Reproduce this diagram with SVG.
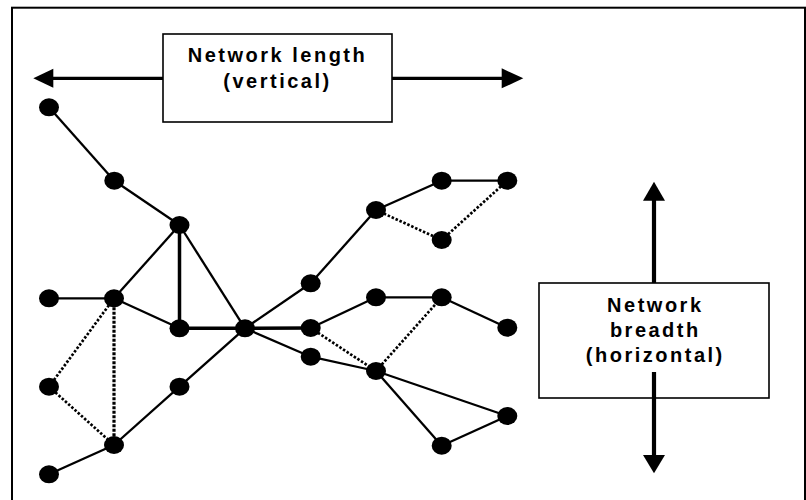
<svg xmlns="http://www.w3.org/2000/svg" width="806" height="500" viewBox="0 0 806 500">
<style>
.e{stroke:#000;stroke-width:2.3;fill:none}
.t{stroke:#000;stroke-width:3.5;fill:none}
.d{stroke:#000;stroke-width:2.7;fill:none;stroke-dasharray:2.5 1.8}
.dt{stroke:#000;stroke-width:3.2;fill:none;stroke-dasharray:3 1.5}
.n{fill:#000}
.box{fill:#fff;stroke:#000;stroke-width:1.6}
.lbl{font-family:"Liberation Sans",Arial,sans-serif;font-weight:bold;font-size:20px;letter-spacing:2.5px;text-anchor:middle;fill:#000}
.ar{stroke:#000;fill:none}
</style>
<rect x="12" y="7.7" width="793" height="510" fill="none" stroke="#000" stroke-width="2"/>
<g id="connectors">
<line class="e" x1="49" y1="107.3" x2="114.3" y2="180.7"/>
<line class="e" x1="114.3" y1="180.7" x2="179.5" y2="225"/>
<line class="e" x1="179.5" y1="225" x2="114" y2="298.3"/>
<line class="t" x1="179.5" y1="225" x2="179.5" y2="328.3"/>
<line class="e" x1="179.5" y1="225" x2="245" y2="328.3"/>
<line class="e" x1="49" y1="298.3" x2="114" y2="298.3"/>
<line class="e" x1="114" y1="298.3" x2="179.5" y2="328.3"/>
<line class="t" x1="179.5" y1="328.3" x2="245" y2="328.3"/>
<line class="t" x1="245" y1="328.3" x2="310.7" y2="328"/>
<line class="e" x1="245" y1="328.3" x2="310.7" y2="283.3"/>
<line class="e" x1="245" y1="328.3" x2="310.7" y2="356.7"/>
<line class="e" x1="245" y1="328.3" x2="179.5" y2="386.7"/>
<line class="e" x1="179.5" y1="386.7" x2="114" y2="445"/>
<line class="e" x1="114" y1="445" x2="49" y2="474.3"/>
<line class="e" x1="310.7" y1="283.3" x2="376" y2="210"/>
<line class="e" x1="376" y1="210" x2="441.7" y2="180.7"/>
<line class="e" x1="441.7" y1="180.7" x2="507.3" y2="180.7"/>
<line class="e" x1="310.7" y1="328" x2="376" y2="297.3"/>
<line class="e" x1="376" y1="297.3" x2="441.7" y2="297.3"/>
<line class="e" x1="441.7" y1="297.3" x2="507.3" y2="327.7"/>
<line class="e" x1="310.7" y1="356.7" x2="376" y2="371"/>
<line class="e" x1="376" y1="371" x2="507.3" y2="416"/>
<line class="e" x1="376" y1="371" x2="441.7" y2="445.7"/>
<line class="e" x1="441.7" y1="445.7" x2="507.3" y2="416"/>
<line class="d" x1="376" y1="210" x2="441.7" y2="240"/>
<line class="d" x1="441.7" y1="240" x2="507.3" y2="180.7"/>
<line class="d" x1="114" y1="298.3" x2="49" y2="386.7"/>
<line class="d" x1="49" y1="386.7" x2="114" y2="445"/>
<line class="dt" x1="114" y1="298.3" x2="114" y2="445"/>
<line class="d" x1="310.7" y1="328" x2="376" y2="371"/>
<line class="d" x1="376" y1="371" x2="441.7" y2="297.3"/>
</g>
<g id="nodes">
<ellipse id="nA" class="n" cx="49" cy="107.3" rx="10" ry="9"/>
<ellipse id="nB" class="n" cx="114.3" cy="180.7" rx="10" ry="9"/>
<ellipse id="nC" class="n" cx="179.5" cy="225" rx="10" ry="9"/>
<ellipse id="nD" class="n" cx="49" cy="298.3" rx="10" ry="9"/>
<ellipse id="nE" class="n" cx="114" cy="298.3" rx="10" ry="9"/>
<ellipse id="nF" class="n" cx="179.5" cy="328.3" rx="10" ry="9"/>
<ellipse id="nG" class="n" cx="245" cy="328.3" rx="10" ry="9"/>
<ellipse id="nH" class="n" cx="49" cy="386.7" rx="10" ry="9"/>
<ellipse id="nI" class="n" cx="179.5" cy="386.7" rx="10" ry="9"/>
<ellipse id="nJ" class="n" cx="114" cy="445" rx="10" ry="9"/>
<ellipse id="nK" class="n" cx="49" cy="474.3" rx="10" ry="9"/>
<ellipse id="nL" class="n" cx="310.7" cy="283.3" rx="10" ry="9"/>
<ellipse id="nM" class="n" cx="310.7" cy="328" rx="10" ry="9"/>
<ellipse id="nN" class="n" cx="310.7" cy="356.7" rx="10" ry="9"/>
<ellipse id="nO" class="n" cx="376" cy="210" rx="10" ry="9"/>
<ellipse id="nP" class="n" cx="441.7" cy="180.7" rx="10" ry="9"/>
<ellipse id="nQ" class="n" cx="507.3" cy="180.7" rx="10" ry="9"/>
<ellipse id="nR" class="n" cx="441.7" cy="240" rx="10" ry="9"/>
<ellipse id="nS" class="n" cx="376" cy="297.3" rx="10" ry="9"/>
<ellipse id="nT" class="n" cx="441.7" cy="297.3" rx="10" ry="9"/>
<ellipse id="nU" class="n" cx="507.3" cy="327.7" rx="10" ry="9"/>
<ellipse id="nV" class="n" cx="376" cy="371" rx="10" ry="9"/>
<ellipse id="nW" class="n" cx="507.3" cy="416" rx="10" ry="9"/>
<ellipse id="nX" class="n" cx="441.7" cy="445.7" rx="10" ry="9"/>
</g>
<g id="length-indicator">
<line class="ar" stroke-width="3.3" x1="52" y1="78.3" x2="163" y2="78.3"/>
<polygon points="33.3,78.3 53.3,68.8 53.3,87.8"/>
<line class="ar" stroke-width="3.3" x1="392" y1="78.3" x2="503" y2="78.3"/>
<polygon points="523.3,78.3 501.7,68.3 501.7,88.3"/>
<rect class="box" x="163" y="34" width="229" height="88"/>
<text class="lbl" x="277.5" y="62">Network length</text>
<text class="lbl" x="277.5" y="87.5">(vertical)</text>
</g>
<g id="breadth-indicator">
<line class="ar" stroke-width="4.2" x1="654" y1="283" x2="654" y2="199"/>
<polygon points="654,181.7 643,200.7 665,200.7"/>
<rect class="box" x="539" y="283" width="230" height="115"/>
<line class="ar" stroke-width="4.2" x1="654" y1="372" x2="654" y2="457"/>
<polygon points="654,473.3 643,455 665,455"/>
<text class="lbl" x="655.3" y="311.7">Network</text>
<text class="lbl" x="655.3" y="337.2">breadth</text>
<text class="lbl" x="655.3" y="362.2">(horizontal)</text>
</g>
</svg>
